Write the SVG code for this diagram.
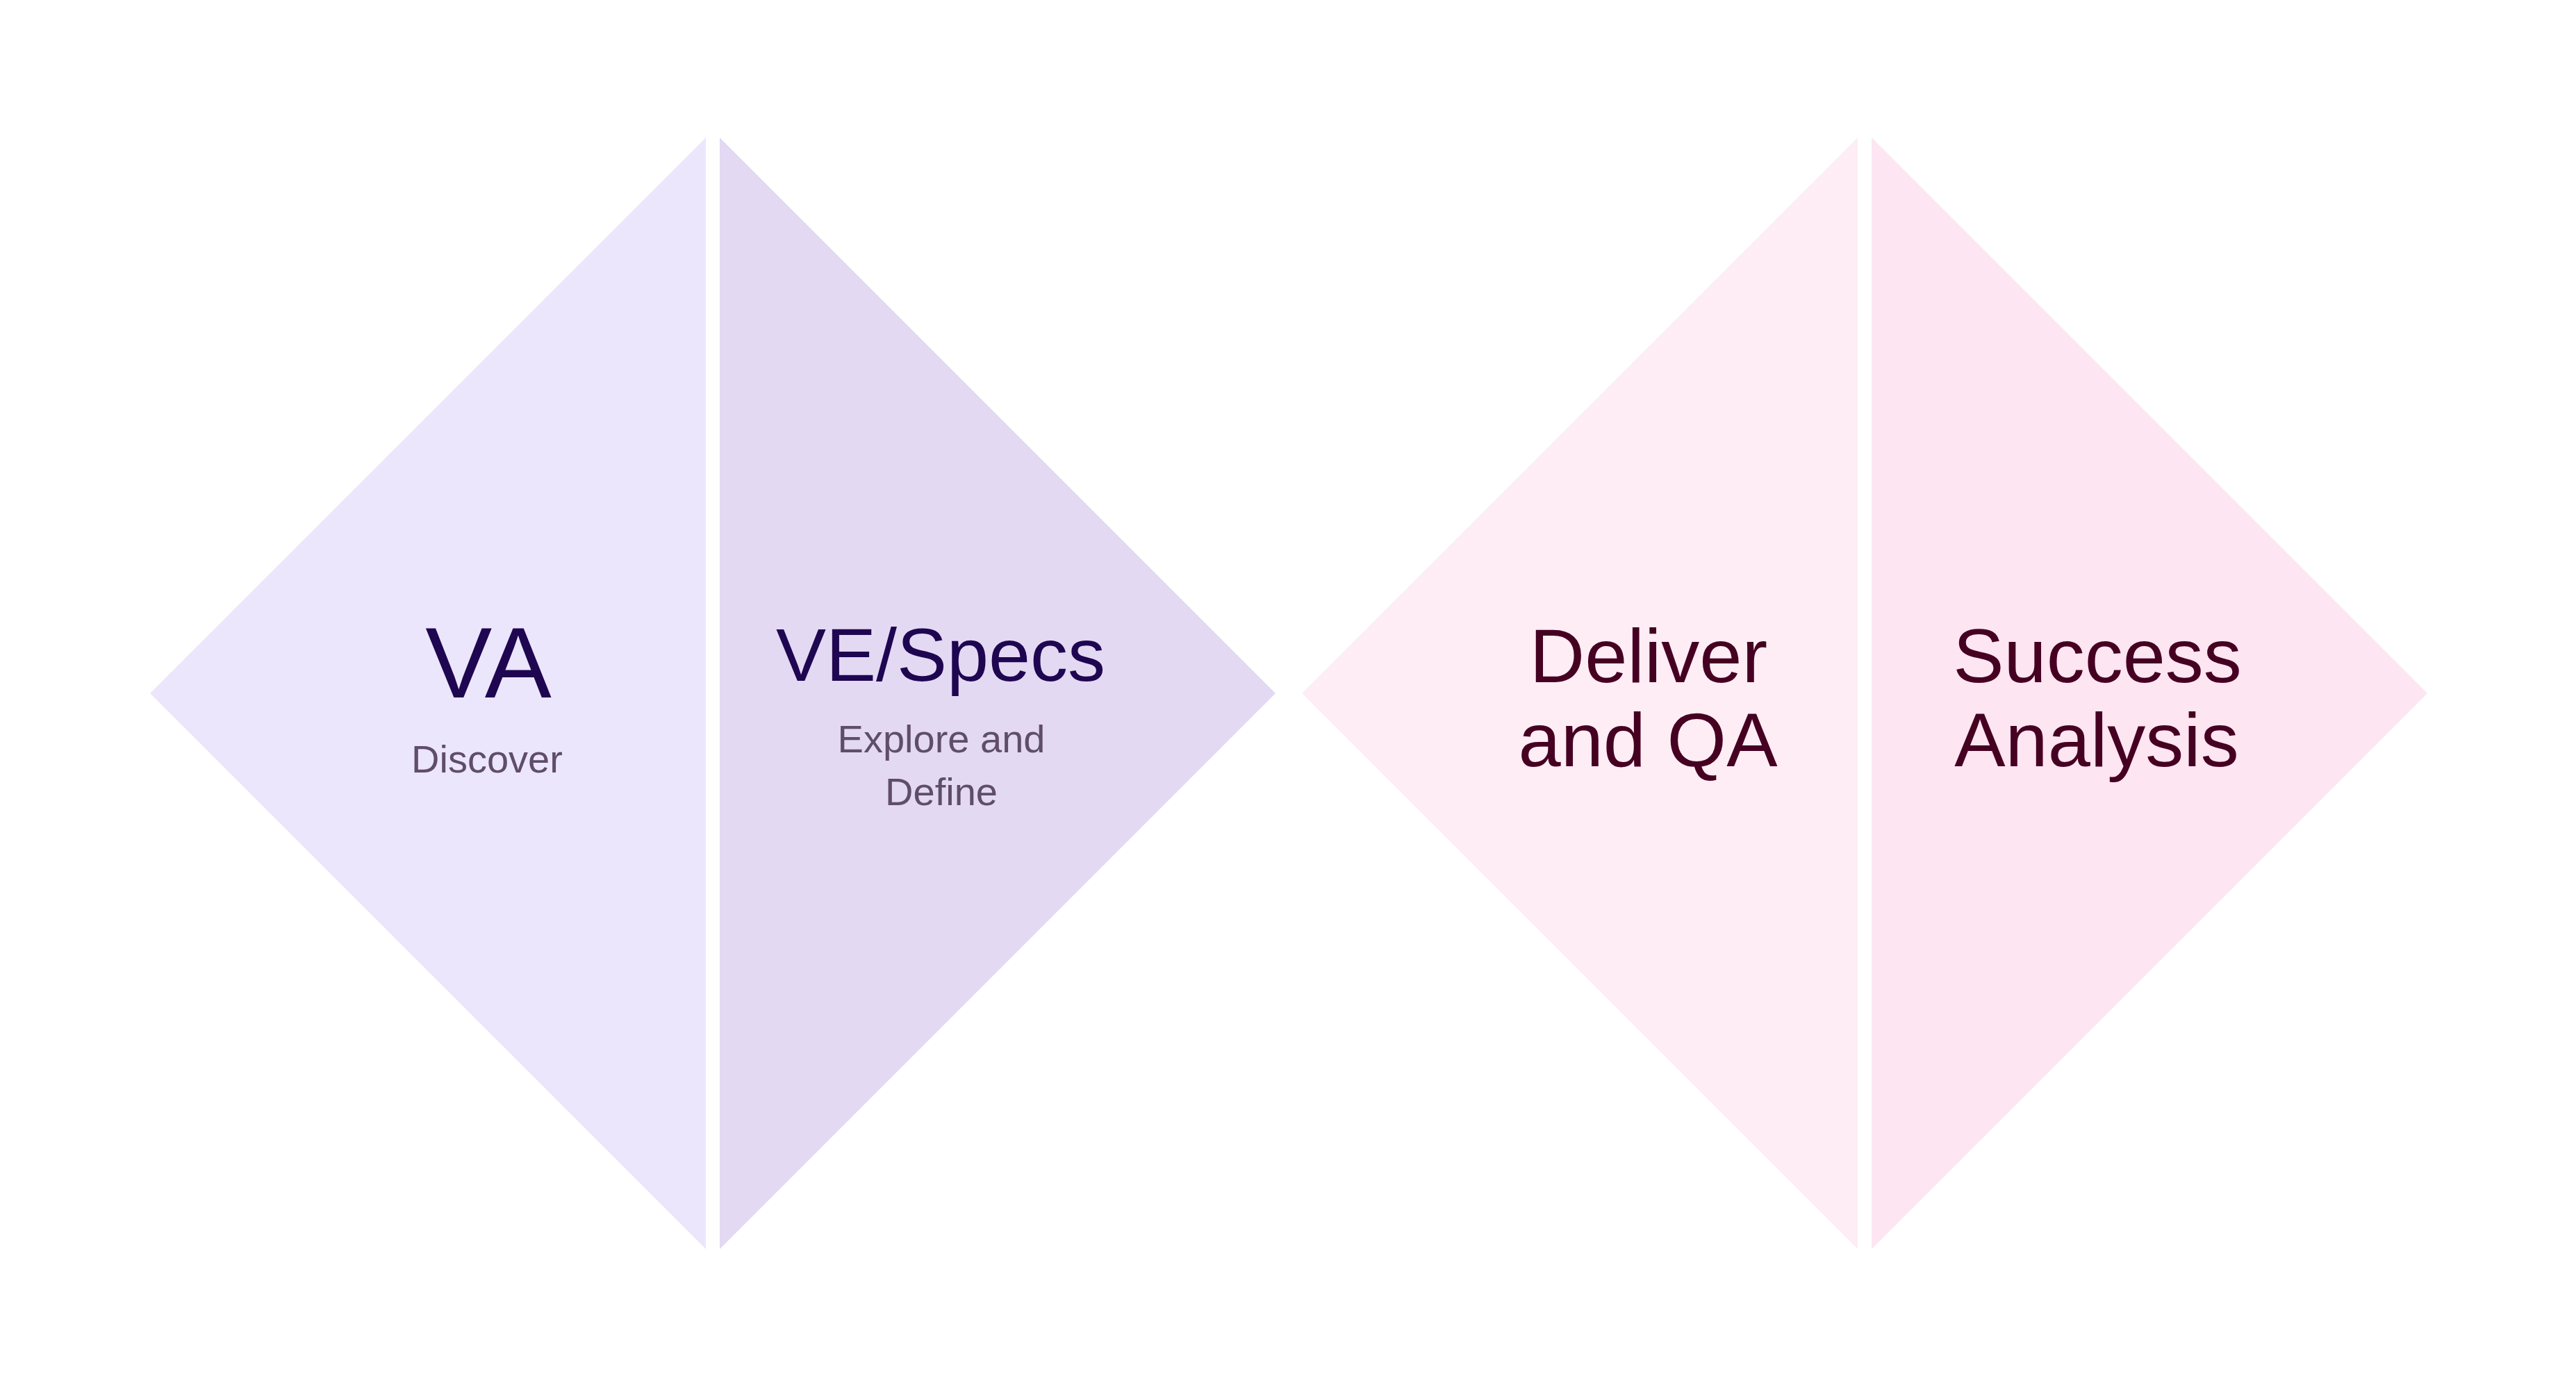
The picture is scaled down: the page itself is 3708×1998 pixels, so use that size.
<svg xmlns="http://www.w3.org/2000/svg" width="3708" height="1998" viewBox="0 0 3708 1998">
<style>
text{font-family:"Liberation Sans",Arial,sans-serif;text-anchor:middle}
.t1{font-size:144px;fill:#1f0651}
.t2{font-size:108px;fill:#1f0651}
.s{font-size:56px;fill:#5f4d6a}
.p{font-size:110px;fill:#450022}
</style>
<rect width="3708" height="1998" fill="#ffffff"/>
<g id="node-va">
<polygon points="216,998 1016,198 1016,1798" fill="#ece6fd"/>
<text class="t1" x="703" y="1004">VA</text>
<text class="s" x="701" y="1112">Discover</text>
</g>
<g id="node-ve">
<polygon points="1036,198 1836,998 1036,1798" fill="#e3d9f3"/>
<text class="t2" x="1354" y="980">VE/Specs</text>
<text class="s" x="1355" y="1083">Explore and</text>
<text class="s" x="1355" y="1159">Define</text>
</g>
<g id="node-deliver">
<polygon points="1874,998 2674,198 2674,1798" fill="#feedf4"/>
<text class="p" x="2373" y="982">Deliver</text>
<text class="p" x="2372" y="1103">and QA</text>
</g>
<g id="node-success">
<polygon points="2694,198 3494,998 2694,1798" fill="#fde5f1"/>
<text class="p" x="3019" y="982">Success</text>
<text class="p" x="3018" y="1103">Analysis</text>
</g>
<g id="connectors"></g>
</svg>
